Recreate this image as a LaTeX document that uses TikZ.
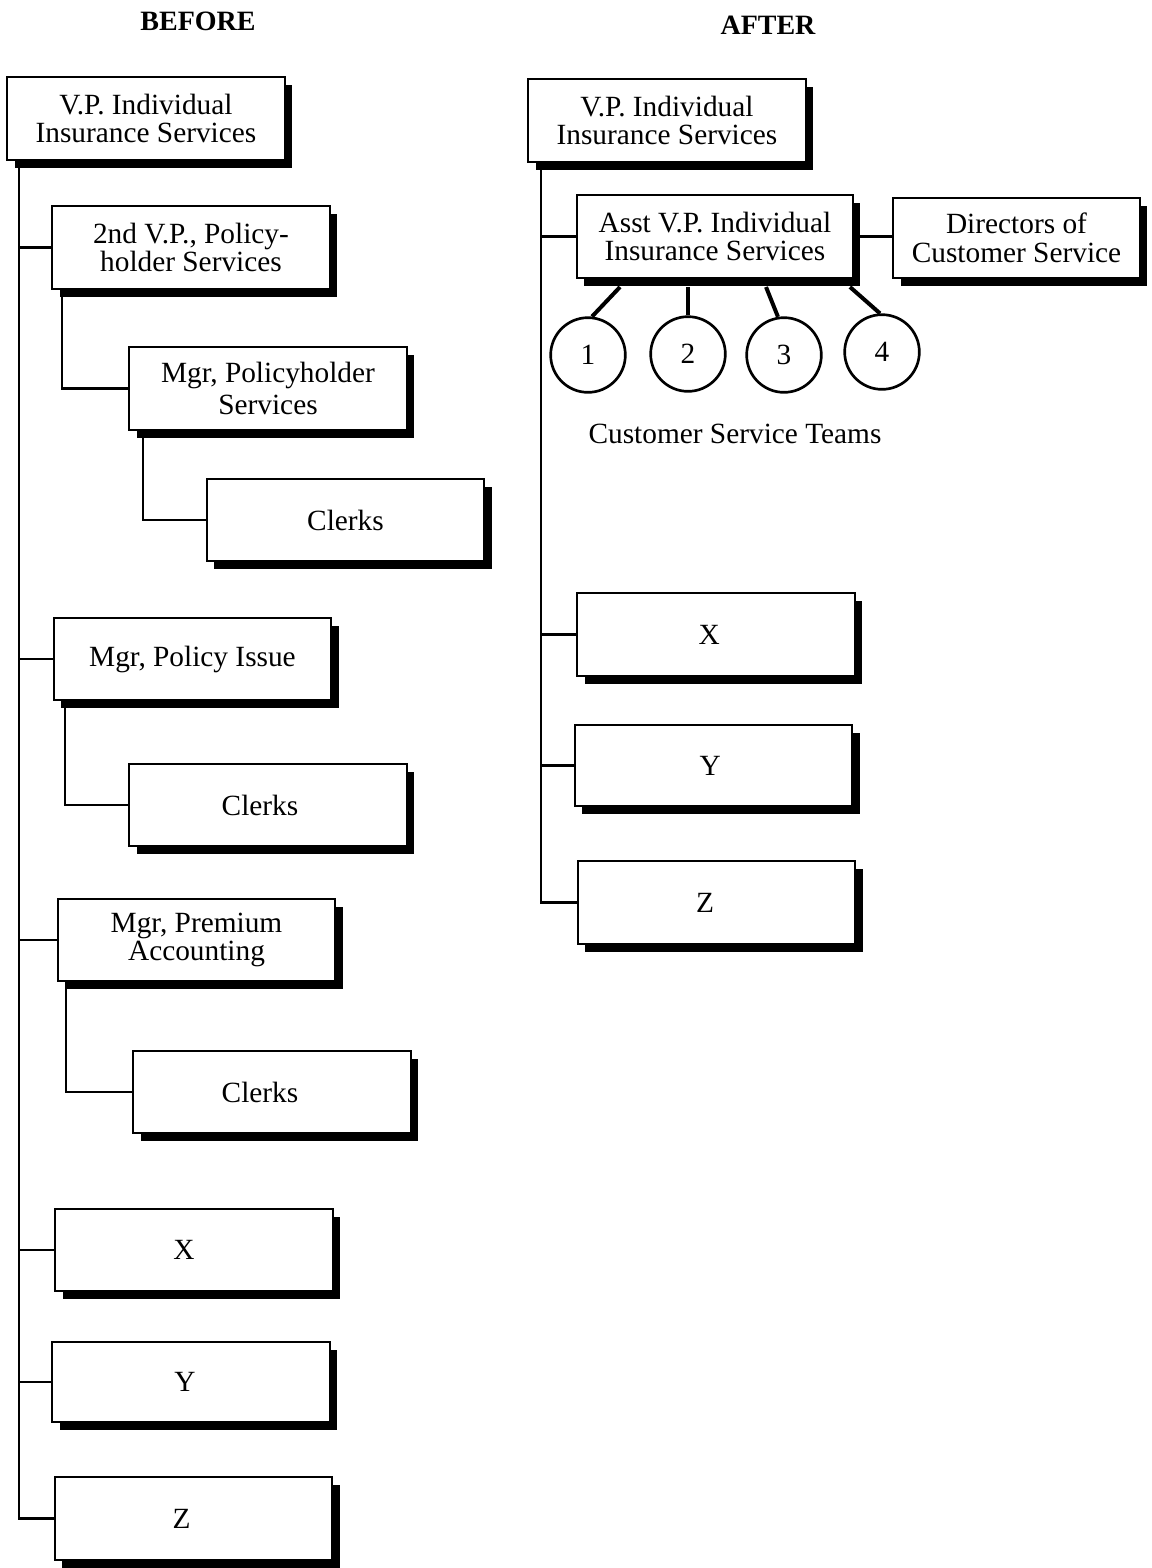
\documentclass[tikz,border=0pt]{standalone}
\usepackage{fontspec}
\setmainfont{Liberation Serif}
\usetikzlibrary{shadows}

\tikzset{
  box/.style={draw, line width=1.5pt, fill=white, inner sep=0pt, align=center,
    minimum width=208pt, minimum height=62pt,
    font=\fontsize{22}{21.5}\selectfont,
    drop shadow={shadow xshift=5.5pt, shadow yshift=-6pt, fill=black, opacity=1}},
  % moves a one-line label to the left of the box centre
  lean/.style={execute at end node={\hspace*{#1}}},
  link/.style={line width=1.7pt},
  spoke/.style={line width=3pt},
  team/.style={draw, circle, line width=2pt, minimum size=56pt, inner sep=0pt,
    font=\fontsize{22}{22}\selectfont},
  caption/.style={font=\fontsize{22}{22}\selectfont},
  heading/.style={font=\bfseries\fontsize{21}{21}\selectfont}
}

\begin{document}
\begin{tikzpicture}[x=0.75pt, y=-0.75pt]
\useasboundingbox (0,0) rectangle (1152,1568);

% headings
\node[heading] (hb) at (198,21) {BEFORE};
\node[heading] (ha) at (768,25) {AFTER};

% ---------- before ----------
\node[box] (vpA) at (146,118.5) {V.P. Individual\\Insurance Services};
\node[box] (svp) at (191,247.5) {2nd V.P., Policy-\\holder Services};
\node[box, font=\fontsize{22}{24}\selectfont] (mph) at (268,388.5) {Mgr, Policyholder\\Services};
\node[box] (clA) at (345.5,520) {Clerks};
\node[box] (mpi) at (192.5,659) {Mgr, Policy Issue};
\node[box, lean=12pt] (clB) at (268,805) {Clerks};
\node[box] (mpa) at (196.5,940) {Mgr, Premium\\Accounting};
\node[box, lean=18pt] (clC) at (272,1092) {Clerks};
\node[box, lean=15pt] (xA) at (194,1250) {X};
\node[box, lean=9pt, minimum height=60pt] (yA) at (191,1382) {Y};
\node[box, lean=18pt] (zA) at (193.5,1518.5) {Z};

\coordinate (lA) at (19,160);
\draw[link] (lA) |- (zA.west);
\foreach \b in {svp, mpi, mpa, xA, yA}
  \draw[link] (lA |- \b.west) -- (\b.west);

\coordinate (s1) at (62,290);
\coordinate (s2) at (143,431);
\coordinate (s3) at (65,700);
\coordinate (s4) at (66,982);
\draw[link] (s1) |- (mph.west);
\draw[link] (s2) |- (clA.west);
\draw[link] (s3) |- (clB.west);
\draw[link] (s4) |- (clC.west);

% ---------- after ----------
\node[box] (vpB) at (667,120.5) {V.P. Individual\\Insurance Services};
\node[box, minimum width=207pt] (asst) at (715,236.5) {Asst V.P. Individual\\Insurance Services};
\node[box, minimum width=185pt, minimum height=60pt] (dirs) at (1016.5,238) {Directors of\\Customer Service};
\node[box, lean=10pt] (xB) at (716,634.5) {X};
\node[box, lean=5pt, minimum height=61pt] (yB) at (713.5,765.5) {Y};
\node[box, lean=17pt] (zB) at (716.5,902.5) {Z};

\coordinate (rA) at (541,163);
\draw[link] (rA) |- (zB.west);
\foreach \b in {asst, xB, yB}
  \draw[link] (rA |- \b.west) -- (\b.west);
\draw[link] (asst.east) -- (asst.east -| dirs.west);

% customer service teams
\node[team] (c1) at (588,355) {1};
\node[team] (c2) at (688,354) {2};
\node[team] (c3) at (784,355) {3};
\node[team] (c4) at (882,352) {4};

\coordinate (t1) at (620,287);
\coordinate (t2) at (688,287);
\coordinate (t3) at (766,287);
\coordinate (t4) at (850,287);
\draw[spoke] (t1) -- (c1.84);
\draw[spoke] (t2) -- (c2.90);
\draw[spoke] (t3) -- (c3.99);
\draw[spoke] (t4) -- (c4.93);

\node[caption] (teams) at (735,434) {Customer Service Teams};
\end{tikzpicture}
\end{document}
